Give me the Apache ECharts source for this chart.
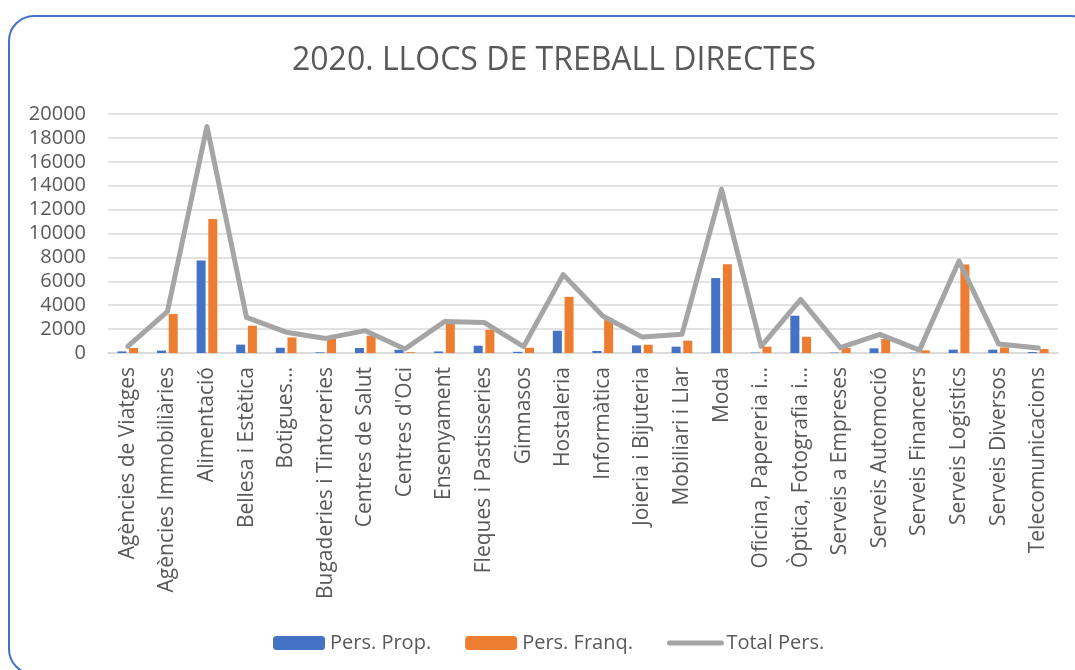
<!DOCTYPE html>
<html>
<head>
<meta charset="utf-8">
<script src="https://cdn.jsdelivr.net/npm/echarts@6/dist/echarts.min.js"></script>
<style>
  html, body { margin: 0; padding: 0; background: #fff; overflow: hidden; }
  #frame {
    position: absolute; left: 8px; top: 15px; width: 1090px; height: 660px;
    border: 2px solid #4472C4; border-radius: 26px; box-sizing: border-box;
  }
  #chart { position: absolute; left: 0; top: 0; width: 1075px; height: 670px; }
</style>
</head>
<body>
<div id="frame"></div>
<div id="chart"></div>
<script>
// categories (sectors)
const categories = [
  'Agències de Viatges', 'Agències Immobiliàries', 'Alimentació', 'Bellesa i Estètica',
  'Botigues…', 'Bugaderies i Tintoreries', 'Centres de Salut', "Centres d'Oci",
  'Ensenyament', 'Fleques i Pastisseries', 'Gimnasos', 'Hostaleria',
  'Informàtica', 'Joieria i Bijuteria', 'Mobiliari i Llar', 'Moda',
  'Oficina, Papereria i…', 'Òptica, Fotografia i…', 'Serveis a Empreses', 'Serveis Automoció',
  'Serveis Financers', 'Serveis Logístics', 'Serveis Diversos', 'Telecomunicacions'
];
// Pers. Prop.
const persProp = [130, 200, 7740, 700, 440, 50, 420, 270, 130, 610, 100, 1860,
  170, 640, 530, 6270, 30, 3120, 30, 390, 20, 280, 280, 80];
// Pers. Franq.
const persFranq = [420, 3260, 11220, 2280, 1300, 1170, 1450, 60, 2500, 1950, 440, 4700,
  2920, 690, 1030, 7430, 530, 1360, 420, 1170, 220, 7410, 470, 330];
// Total Pers.
const totalPers = [550, 3460, 18960, 2980, 1740, 1220, 1870, 330, 2630, 2560, 540, 6560,
  3090, 1330, 1560, 13700, 560, 4480, 450, 1560, 240, 7690, 750, 410];

const FONT = '"Open Sans", sans-serif';
const TXT = '#595959';

const chart = echarts.init(document.getElementById('chart'));
chart.setOption({
  backgroundColor: 'transparent',
  animation: false,
  title: {
    text: '2020. LLOCS DE TREBALL DIRECTES',
    left: 287,
    top: 40,
    textStyle: { color: TXT, fontSize: 32, fontWeight: 'normal', fontFamily: FONT }
  },
  legend: {
    left: 268,
    top: 628,
    itemWidth: 52,
    itemHeight: 14,
    itemGap: 34,
    textStyle: { color: TXT, fontSize: 20, fontFamily: FONT },
    data: [
      'Pers. Prop.',
      'Pers. Franq.',
      {
        name: 'Total Pers.',
        itemStyle: { opacity: 0 },
        lineStyle: { width: 5, cap: 'round', color: '#A5A5A5' }
      }
    ]
  },
  grid: { left: 108, right: 17, top: 114, bottom: 317 },
  xAxis: {
    type: 'category',
    data: categories,
    axisTick: { show: false },
    axisLine: { lineStyle: { color: '#D9D9D9', width: 1.5 } },
    axisLabel: {
      rotate: 90, interval: 0, margin: 14,
      color: TXT, fontSize: 21, fontFamily: FONT
    }
  },
  yAxis: {
    type: 'value',
    min: 0, max: 20000, interval: 2000,
    axisLine: { show: false },
    axisTick: { show: false },
    splitLine: { lineStyle: { color: '#D9D9D9', width: 1.5 } },
    axisLabel: {
      margin: 22, color: TXT, fontSize: 20, fontFamily: FONT,
      formatter: v => String(v)
    }
  },
  series: [
    {
      name: 'Pers. Prop.', type: 'bar', data: persProp,
      barWidth: 9, barGap: '30%',
      itemStyle: { color: '#4472C4' }
    },
    {
      name: 'Pers. Franq.', type: 'bar', data: persFranq,
      barWidth: 9,
      itemStyle: { color: '#ED7D31' }
    },
    {
      name: 'Total Pers.', type: 'line', data: totalPers,
      symbol: 'none',
      lineStyle: { color: '#A5A5A5', width: 5, cap: 'round', join: 'round' },
      itemStyle: { color: '#A5A5A5' }
    }
  ]
});
</script>
</body>
</html>
